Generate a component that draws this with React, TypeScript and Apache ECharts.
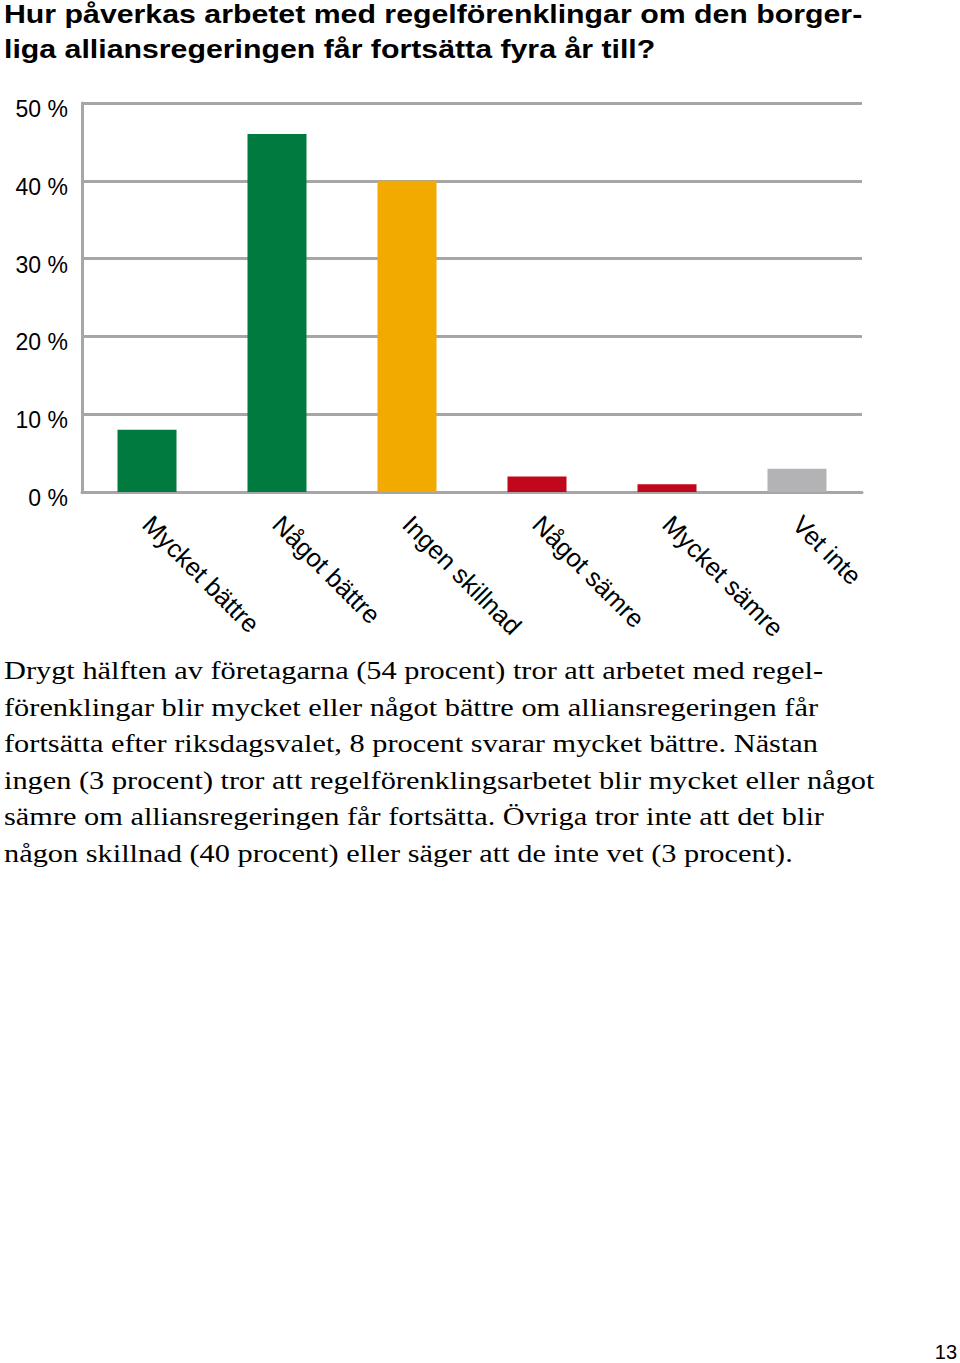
import React, { useEffect, useRef } from "react";
import * as echarts from "echarts";

const categories = ["Mycket bättre", "Något bättre", "Ingen skillnad", "Något sämre", "Mycket sämre", "Vet inte"];
const values = [8, 46, 40, 2, 1, 3];
const yTicks = [0, 10, 20, 30, 40, 50];
const barColors = ["#007a3e", "#007a3e", "#f2aa00", "#c1071c", "#c1071c", "#b3b3b5"];

const titleLines = [
  "Hur påverkas arbetet med regelförenklingar om den borger-",
  "liga alliansregeringen får fortsätta fyra år till?",
];
const paragraphLines = [
  "Drygt hälften av företagarna (54 procent) tror att arbetet med regel-",
  "förenklingar blir mycket eller något bättre om alliansregeringen får",
  "fortsätta efter riksdagsvalet, 8 procent svarar mycket bättre. Nästan",
  "ingen (3 procent) tror att regelförenklingsarbetet blir mycket eller något",
  "sämre om alliansregeringen får fortsätta. Övriga tror inte att det blir",
  "någon skillnad (40 procent) eller säger att de inte vet (3 procent).",
];
const pageNumber = "13";

const SANS = "'Liberation Sans', Arial, Helvetica, sans-serif";
const SERIF = "'Liberation Serif', 'Times New Roman', serif";
const GRID_GRAY = "#a6a6a6";

export default function App() {
  const ref = useRef<HTMLDivElement>(null);
  useEffect(() => {
    if (!ref.current) return;
    const chart = echarts.init(ref.current, undefined, { renderer: "svg" });
    chart.setOption({
      animation: false,
      backgroundColor: "#ffffff",
      grid: { left: 82, top: 103, width: 780, height: 389, containLabel: false },
      xAxis: {
        type: "category",
        data: categories,
        axisLine: { show: true, lineStyle: { color: GRID_GRAY, width: 3 } },
        axisTick: { show: false },
        axisLabel: {
          interval: 0,
          rotate: -45,
          margin: 28,
          fontFamily: SANS,
          fontSize: 25.5,
          color: "#000",
        },
      },
      yAxis: {
        type: "value",
        min: yTicks[0],
        max: yTicks[yTicks.length - 1],
        interval: 10,
        axisLine: { show: true, lineStyle: { color: GRID_GRAY, width: 3 } },
        axisTick: { show: false },
        splitLine: { show: true, lineStyle: { color: GRID_GRAY, width: 3 } },
        axisLabel: {
          formatter: "{a|{value} %}",
          margin: 14,
          rich: {
            a: {
              fontFamily: SANS,
              fontSize: 23,
              color: "#000",
              padding: [12, 0, 0, 0],
            },
          },
        },
      },
      series: [
        {
          type: "bar",
          barWidth: 59,
          data: values.map((v, i) => ({ value: v, itemStyle: { color: barColors[i] } })),
        },
      ],
      graphic: [
        {
          type: "text",
          x: 4,
          y: -4,
          scaleX: 1.165,
          style: {
            text: titleLines.join("\n"),
            x: 0,
            y: 0,
            verticalAlign: "top",
            fontFamily: SANS,
            fontSize: 26,
            fontWeight: "bold",
            lineHeight: 35,
            fill: "#000",
          },
        },
        {
          type: "text",
          x: 4,
          y: 652,
          scaleX: 1.168,
          style: {
            text: paragraphLines.join("\n"),
            x: 0,
            y: 0,
            verticalAlign: "top",
            fontFamily: SERIF,
            fontSize: 26,
            lineHeight: 36.6,
            fill: "#000",
          },
        },
        {
          type: "text",
          right: 3,
          top: 1342,
          style: {
            text: pageNumber,
            fontFamily: SANS,
            fontSize: 20,
            fill: "#000",
          },
        },
      ],
    });
    return () => chart.dispose();
  }, []);
  return (
    <div
      ref={ref}
      style={{ position: "absolute", left: 0, top: 0, width: 960, height: 1363 }}
    />
  );
}
